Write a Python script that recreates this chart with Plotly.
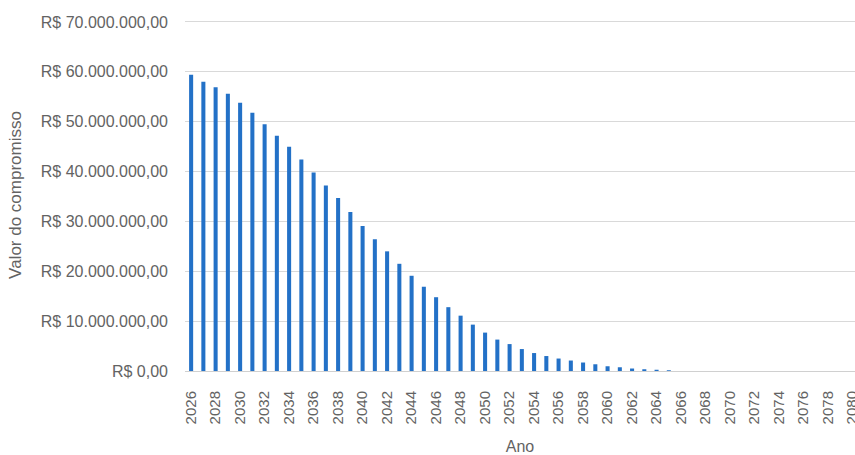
import plotly.graph_objects as go

years = list(range(2026, 2081))
values_millions = [59.4, 58.0, 56.9, 55.6, 53.8, 51.8, 49.5, 47.2, 45.0, 42.4,
                   39.8, 37.2, 34.7, 31.9, 29.1, 26.4, 24.0, 21.5, 19.1, 16.9,
                   14.8, 12.8, 11.1, 9.3, 7.7, 6.3, 5.4, 4.4, 3.6, 3.0,
                   2.5, 2.1, 1.7, 1.35, 0.95, 0.75, 0.5, 0.35, 0.25, 0.15,
                   0, 0, 0, 0, 0, 0, 0, 0, 0, 0, 0, 0, 0, 0, 0]
values = [v * 1_000_000 for v in values_millions]

y_tickvals = [0, 10e6, 20e6, 30e6, 40e6, 50e6, 60e6, 70e6]
y_ticktext = ["R$ 0,00", "R$ 10.000.000,00", "R$ 20.000.000,00", "R$ 30.000.000,00",
              "R$ 40.000.000,00", "R$ 50.000.000,00", "R$ 60.000.000,00", "R$ 70.000.000,00"]
x_tickvals = years[::2]
x_ticktext = [str(y) for y in x_tickvals]

font_family = "Liberation Sans, Arial, sans-serif"
text_color = "#636363"

fig = go.Figure(go.Bar(x=years, y=values, marker=dict(color="#2371C7", line=dict(width=0)),
                       hoverinfo="skip"))

fig.update_layout(
    width=855, height=455,
    margin=dict(l=185, r=0, t=19, b=84, autoexpand=False),
    paper_bgcolor="white", plot_bgcolor="white",
    bargap=0.67,
    showlegend=False,
    font=dict(family=font_family, color=text_color, size=15),
)
fig.update_xaxes(
    range=[2025.5, 2080.2],
    tickmode="array", tickvals=x_tickvals, ticktext=x_ticktext,
    tickangle=-90, tickfont=dict(size=15, color=text_color),
    ticklabelstandoff=13, ticklabeloverflow="allow",
    showgrid=False, zeroline=False,
    showline=True, linecolor="#d0d0d0", linewidth=1,
    title=dict(text="Ano", font=dict(size=16, color=text_color), standoff=18),
    automargin=False,
)
fig.update_yaxes(
    range=[0, 70.6e6],
    tickmode="array", tickvals=y_tickvals, ticktext=y_ticktext,
    tickfont=dict(size=16, color=text_color),
    ticklabelstandoff=16,
    showgrid=True, gridcolor="#d9d9d9", gridwidth=1,
    zeroline=False, showline=False,
    title=dict(text="Valor do compromisso", font=dict(size=17, color=text_color), standoff=14),
    automargin=False,
)

fig.write_html("out.html",
               config={"displayModeBar": False, "staticPlot": True},
               post_script="document.body.style.margin='0';document.body.style.padding='0';"
                           "document.body.style.overflow='hidden';")
